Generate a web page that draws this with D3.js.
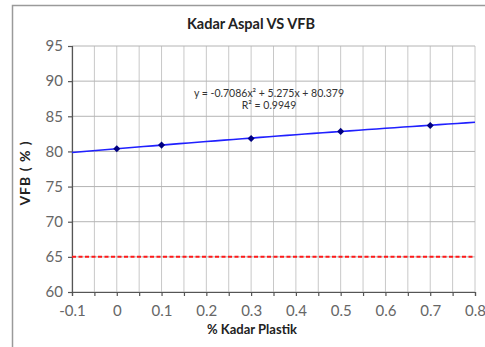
<!DOCTYPE html>
<html>
<head>
<meta charset="utf-8">
<script src="https://cdn.jsdelivr.net/npm/d3@7"></script>
<style>
  body { margin: 0; background: #fff; }
  text { font-family: Lato, "Open Sans", sans-serif; }
</style>
</head>
<body>
<script>
// data
const kadarPlastik = [0, 0.1, 0.3, 0.5, 0.7]
const vfb = [80.38, 80.9, 81.85, 82.85, 83.7]
const trendCoef = [-0.7086, 5.275, 80.379] // a x^2 + b x + c
const trendRange = [-0.1, 0.8]
const batasMin = 65
const yTicks = [60, 65, 70, 75, 80, 85, 90, 95]
const xTicks = [-0.1, 0, 0.1, 0.2, 0.3, 0.4, 0.5, 0.6, 0.7, 0.8]
const xGrid = d3.range(0, 19).map(i => -0.1 + i * 0.05)

const W = 485, H = 347
const margin = { top: 46, right: 10, bottom: 55, left: 72 },
width = 475 - margin.left,
height = 292 - margin.top

let svg = d3.select("body").append("svg")
    .attr("width", W)
    .attr("height", H)

// outer frame
svg.append("rect")
    .attr("x", 12.5).attr("y", 5.5)
    .attr("width", 480).attr("height", 360)
    .attr("fill", "none")
    .attr("stroke", "#9a9a9a")
    .attr("stroke-width", 1.5)

let x = d3.scaleLinear().domain([-0.1, 0.8]).range([0, width])
let y = d3.scaleLinear().domain([60, 95]).range([height, 0])

let g = svg.append("g")
    .attr("transform", "translate(" + margin.left + "," + margin.top + ")")

// grid
g.selectAll(".vgrid").data(xGrid).enter().append("line")
    .attr("x1", d => x(d)).attr("x2", d => x(d))
    .attr("y1", 0).attr("y2", height)
    .attr("stroke", "#c8c8c8").attr("stroke-width", 1)
g.selectAll(".hgrid").data(yTicks).enter().append("line")
    .attr("x1", 0).attr("x2", width)
    .attr("y1", d => y(d)).attr("y2", d => y(d))
    .attr("stroke", "#b4b4b4").attr("stroke-width", 1)

// axes
let yAxis = g.append("g")
    .call(d3.axisLeft(y).tickValues(yTicks).tickSize(4).tickPadding(5))
let xAxis = g.append("g")
    .attr("transform", "translate(0," + height + ")")
    .call(d3.axisBottom(x).tickValues(xGrid).tickSize(4).tickPadding(9)
        .tickFormat(d => {
            let r = Math.round(d * 100) / 100
            return xTicks.some(t => Math.abs(t - r) < 1e-9) ? String(r) : ""
        }))
svg.selectAll(".domain, .tick line").attr("stroke", "#555").attr("stroke-width", 1.2)
svg.selectAll(".tick text").attr("fill", "#666").attr("font-size", 15)
    .attr("font-family", "Lato, sans-serif")

// red dashed limit
g.append("line")
    .attr("x1", x(trendRange[0])).attr("x2", x(trendRange[1]))
    .attr("y1", y(batasMin)).attr("y2", y(batasMin))
    .attr("stroke", "#ff1a1a").attr("stroke-width", 2)
    .attr("stroke-dasharray", "4,2.5")

// trendline from displayed equation
const trendPts = d3.range(0, 46).map(i => {
    let xv = trendRange[0] + i * 0.02
    return [xv, trendCoef[0] * xv * xv + trendCoef[1] * xv + trendCoef[2]]
})
g.append("path")
    .datum(trendPts)
    .attr("fill", "none")
    .attr("stroke", "#2020ff")
    .attr("stroke-width", 1.6)
    .attr("d", d3.line().x(d => x(d[0])).y(d => y(d[1])))

// points
g.selectAll(".pt").data(kadarPlastik).enter().append("rect")
    .attr("x", d => x(d) - 2.5)
    .attr("y", (d, i) => y(vfb[i]) - 2.5)
    .attr("width", 5).attr("height", 5)
    .attr("transform", (d, i) => "rotate(45," + x(d) + "," + y(vfb[i]) + ")")
    .attr("fill", "#000080")

// equation
g.append("text")
    .attr("x", 197).attr("y", 51)
    .attr("text-anchor", "middle")
    .attr("font-size", 10.5).attr("fill", "#333")
    .text("y = -0.7086x² + 5.275x + 80.379")
g.append("text")
    .attr("x", 197).attr("y", 63)
    .attr("text-anchor", "middle")
    .attr("font-size", 10.5).attr("fill", "#333")
    .text("R² = 0.9949")

// titles
svg.append("text")
    .attr("x", 251).attr("y", 29)
    .attr("text-anchor", "middle")
    .attr("font-size", 14.5).attr("font-weight", "bold").attr("fill", "#222")
    .text("Kadar Aspal VS VFB")
svg.append("text")
    .attr("x", 252).attr("y", 334)
    .attr("text-anchor", "middle")
    .attr("font-size", 13).attr("font-weight", "bold").attr("fill", "#222")
    .text("% Kadar Plastik")
svg.append("text")
    .attr("transform", "translate(30,173) rotate(-90)")
    .attr("text-anchor", "middle")
    .attr("font-size", 14).attr("font-weight", "bold").attr("fill", "#222")
    .attr("letter-spacing", 1)
    .text("VFB ( % )")
</script>
</body>
</html>
